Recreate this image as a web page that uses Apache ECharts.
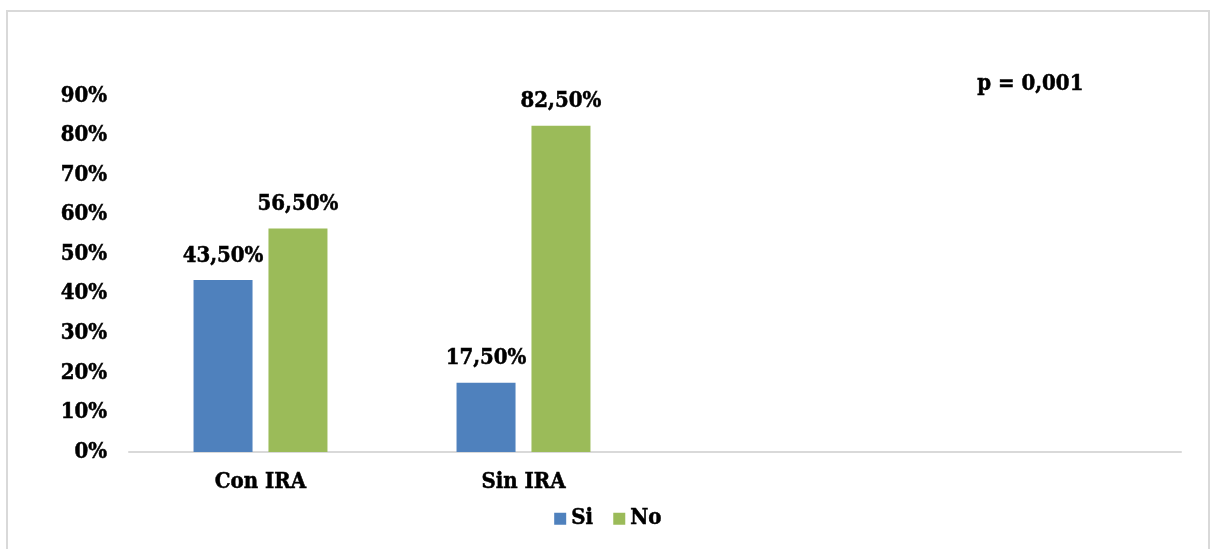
<!DOCTYPE html>
<html>
<head>
<meta charset="utf-8">
<script src="https://cdn.jsdelivr.net/npm/echarts@6/dist/echarts.min.js"></script>
<style>
  html, body { margin: 0; padding: 0; background: #fff; }
  #main { width: 1216px; height: 549px; }
</style>
</head>
<body>
<div id="main"></div>
<script>
  // datos del grafico
  var categorias = ['Con IRA', 'Sin IRA', '', ''];
  var valoresSi = [43.5, 17.5, null, null];
  var valoresNo = [56.5, 82.5, null, null];
  var nombresSeries = ['Si', 'No'];
  var textoP = 'p = 0,001';

  var fuente = '"DejaVu Serif Condensed", "DejaVu Serif", serif';
  var tam = 22;
  // trazo fino para engrosar un poco el texto
  var borde = { textBorderColor: '#000', textBorderWidth: 0.5 };

  function etiqueta(p) {
    return p.value.toFixed(2).replace('.', ',') + '%';
  }

  function estiloTexto(extra) {
    return Object.assign({
      color: '#000',
      fontFamily: fuente,
      fontWeight: 'bold',
      fontSize: tam
    }, borde, extra || {});
  }

  var myChart = echarts.init(document.getElementById('main'));

  var option = {
    animation: false,
    textStyle: { fontFamily: fuente },
    graphic: [
      {
        type: 'rect',
        shape: { x: 7, y: 11, width: 1202, height: 545 },
        style: { fill: 'none', stroke: '#d9d9d9', lineWidth: 2 }
      },
      {
        type: 'text',
        left: 977,
        top: 73,
        style: {
          text: textoP,
          font: 'bold ' + tam + 'px ' + fuente,
          fill: '#000',
          stroke: '#000',
          lineWidth: 0.5
        }
      }
    ],
    legend: {
      data: nombresSeries,
      bottom: 14,
      left: 'center',
      itemWidth: 12,
      itemHeight: 12,
      itemGap: 20,
      icon: 'rect',
      textStyle: estiloTexto()
    },
    grid: { left: 129, right: 35, top: 96, bottom: 97 },
    xAxis: {
      type: 'category',
      data: categorias,
      axisLine: { lineStyle: { color: '#d9d9d9', width: 2 } },
      axisTick: { show: false },
      axisLabel: estiloTexto({ margin: 19 })
    },
    yAxis: {
      type: 'value',
      min: 0,
      max: 90,
      interval: 10,
      splitLine: { show: false },
      axisLine: { show: false },
      axisLabel: estiloTexto({ margin: 22, formatter: '{value}%' })
    },
    series: [
      {
        name: nombresSeries[0],
        type: 'bar',
        data: valoresSi,
        barWidth: 59,
        barGap: '27%',
        itemStyle: { color: '#4f81bd' },
        label: estiloTexto({ show: true, position: 'top', distance: 13, formatter: etiqueta })
      },
      {
        name: nombresSeries[1],
        type: 'bar',
        data: valoresNo,
        barWidth: 59,
        itemStyle: { color: '#9bbb59' },
        label: estiloTexto({ show: true, position: 'top', distance: 13, formatter: etiqueta })
      }
    ]
  };

  myChart.setOption(option);
</script>
</body>
</html>
